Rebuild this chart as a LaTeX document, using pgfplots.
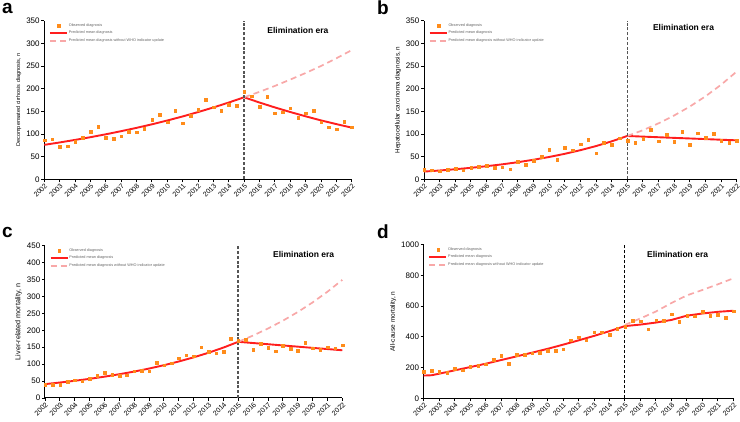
\documentclass[border=0pt]{standalone}
\usepackage{fontspec}
\setmainfont{Liberation Sans}
\usepackage{pgfplots}
\pgfplotsset{compat=1.18}
\definecolor{obs}{RGB}{255,140,26}
\definecolor{pred}{RGB}{255,30,30}
\definecolor{nowho}{RGB}{248,168,168}
\definecolor{vline}{RGB}{85,85,85}
\tikzset{era/.style={font=\bfseries\fontsize{8.5}{9}\selectfont}}
\pgfplotsset{
 panel/.style={
  scale only axis,
  axis x line*=bottom, axis y line*=left,
  xmin=2002, xmax=2022, ymin=0,
  xtick={2002,2003,...,2022},
  tick align=outside,
  major tick length=3pt,
  tick style={black, line width=0.9pt},
  axis line style={black, line width=1pt},
  /pgf/number format/assume math mode=true,
  /pgf/number format/1000 sep={},
  xticklabel style={rotate=45, anchor=north east, font=\fontsize{7}{8}\selectfont, inner sep=0.5pt},
  yticklabel style={font=\fontsize{8}{9}\selectfont, inner sep=1.5pt},
  ylabel style={font=\fontsize{5.5}{6}\selectfont},
  legend style={at={(0.005,1.0)}, anchor=north west, draw=none, fill=none, font=\fontsize{3.8}{4.2}\selectfont, text=black!60, row sep=1.6pt, legend cell align=left, nodes={inner sep=0.8pt}},
  clip=false,
 },
 obsp/.style={only marks, mark=square*, mark size=1.3pt, color=obs, mark options={line width=0.1pt}},
 predp/.style={no marks, color=pred, line width=1.9pt},
 nowhop/.style={no marks, color=nowho, line width=1.7pt, dash pattern=on 6pt off 4pt},
}
\begin{document}
\begin{tikzpicture}
\useasboundingbox (0pt,0pt) rectangle (740pt,422pt);
% panel labels
\node[anchor=base west, inner sep=0, font=\bfseries\fontsize{19}{20}\selectfont] at (2pt,408.5pt) {a};
\node[anchor=base west, inner sep=0, font=\bfseries\fontsize{19}{20}\selectfont] at (377pt,407pt) {b};
\node[anchor=base west, inner sep=0, font=\bfseries\fontsize{19}{20}\selectfont] at (2pt,184pt) {c};
\node[anchor=base west, inner sep=0, font=\bfseries\fontsize{19}{20}\selectfont] at (377pt,183pt) {d};

% ---------- a ----------
\begin{axis}[panel, at={(44.3pt,242.7pt)}, anchor=south west, width=307.4pt, height=158.6pt,
  ymax=350, ytick={0,50,...,350}, ylabel={Decompensated cirrhosis diagnosis, n}]
\addplot[obsp] coordinates {(2002,87)(2002.5,89)(2003,72)(2003.5,73.5)(2004,83)(2004.5,92.6)(2005,105)(2005.5,116)(2006,92.6)(2006.5,89.7)(2007,95.6)(2007.5,105)(2008,104)(2008.5,112)(2009,132)(2009.5,143)(2010,126)(2010.5,152)(2011,124)(2011.5,141)(2012,154)(2012.5,176)(2013,159)(2013.5,152)(2014,165)(2014.5,163)(2015,193)(2015.5,184)(2016,161)(2016.5,182)(2017,146)(2017.5,148)(2018,157)(2018.5,136)(2019,146)(2019.5,152)(2020,126)(2020.5,115)(2021,111)(2021.5,127)(2022,115)};
\addlegendentry{Observed diagnosis}
\addplot[predp] coordinates {(2002,76)(2003,81.3)(2004,86.9)(2005,92.9)(2006,99.3)(2007,106.2)(2008,113.5)(2009,121.3)(2010,129.7)(2011,138.7)(2012,148.3)(2013,158.5)(2014,169.4)(2015,181)(2016,169.4)(2017,158.6)(2018,148.5)(2019,139)(2020,130)(2021,121.8)(2022,114)};
\addlegendentry{Predicted mean diagnosis}
\addplot[nowhop] coordinates {(2015,181)(2016,193)(2017,206)(2018,220)(2019,234.5)(2020,250)(2021,267)(2022,285)};
\addlegendentry{Predicted mean diagnosis without WHO indicator update}
\addplot[forget plot, vline, line width=1.5pt, dash pattern=on 3pt off 1.8pt] coordinates {(2015,0)(2015,350)};
\node[era] at (axis cs:2018.5,329) {Elimination era};
\end{axis}

% ---------- b ----------
\begin{axis}[panel, at={(424pt,242.7pt)}, anchor=south west, width=312.7pt, height=158.6pt,
  ymax=350, ytick={0,50,...,350}, ylabel={Hepatocellular carcinoma diagnosis, n},
  ylabel style={font=\fontsize{6.3}{7}\selectfont}]
\addplot[obsp] coordinates {(2002,22)(2002.5,20.6)(2003,18.4)(2003.5,22)(2004,24)(2004.5,20.6)(2005,26.5)(2005.5,28)(2006,30)(2006.5,25.7)(2007,27)(2007.5,22.8)(2008,39.7)(2008.5,32)(2009,42)(2009.5,50.7)(2010,65)(2010.5,44)(2011,70.6)(2011.5,64.7)(2012,78)(2012.5,87.5)(2013,58)(2013.5,81.6)(2014,76.5)(2014.5,91)(2015,86)(2015.5,81)(2016,90.4)(2016.5,109.6)(2017,84.6)(2017.5,99)(2018,83)(2018.5,106)(2019,77)(2019.5,102)(2020,92.6)(2020.5,101.5)(2021,86)(2021.5,81)(2022,86)};
\addlegendentry{Observed diagnosis}
\addplot[predp] coordinates {(2002,17)(2003,19.4)(2004,22.2)(2005,25.3)(2006,28.9)(2007,33)(2008,37.7)(2009,43.1)(2010,49.2)(2011,56.2)(2012,64.2)(2013,73.3)(2014,83.7)(2015,95.6)(2016,94.2)(2017,92.8)(2018,91.4)(2019,90.1)(2020,88.7)(2021,87.3)(2022,86)};
\addlegendentry{Predicted mean diagnosis}
\addplot[nowhop] coordinates {(2015,95.6)(2016,108.3)(2017,123.5)(2018,140.8)(2019,160.5)(2020,183)(2021,208.6)(2022,237.8)};
\addlegendentry{Predicted mean diagnosis without WHO indicator update}
\addplot[forget plot, vline, line width=1.5pt, dash pattern=on 3pt off 1.8pt] coordinates {(2015,0)(2015,350)};
\node[era] at (axis cs:2018.6,334) {Elimination era};
\end{axis}

% ---------- c ----------
\begin{axis}[panel, at={(45pt,24pt)}, anchor=south west, width=297.3pt, height=152.3pt,
  ymax=450, ytick={0,50,...,450}, ylabel={Liver-related mortality, n},
  ylabel style={font=\fontsize{7.2}{8}\selectfont}]
\addplot[obsp] coordinates {(2002,40.4)(2002.5,40.4)(2003,40.4)(2003.5,48)(2004,53)(2004.5,50)(2005,57)(2005.5,67)(2006,76)(2006.5,70)(2007,66)(2007.5,68)(2008,80)(2008.5,81)(2009,80)(2009.5,104)(2010,97.5)(2010.5,103)(2011,118)(2011.5,127)(2012,124)(2012.5,150.7)(2013,138)(2013.5,133)(2014,138)(2014.5,175)(2015,169)(2015.5,173)(2016,143)(2016.5,160.5)(2017,148.7)(2017.5,139)(2018,155.6)(2018.5,145.7)(2019,140)(2019.5,163.5)(2020,147.7)(2020.5,143)(2021,150.7)(2021.5,147.7)(2022,156.6)};
\addlegendentry{Observed diagnosis}
\addplot[predp] coordinates {(2002,41)(2003,45.7)(2004,50.8)(2005,56.6)(2006,63)(2007,70.2)(2008,78.1)(2009,87)(2010,96.9)(2011,107.9)(2012,120.1)(2013,133.7)(2014,148.9)(2015,166)(2016,162.4)(2017,158.9)(2018,155.3)(2019,151.7)(2020,148.1)(2021,144.6)(2022,141)};
\addlegendentry{Predicted mean diagnosis}
\addplot[nowhop] coordinates {(2015,166)(2016,184.6)(2017,205.3)(2018,228.3)(2019,253.9)(2020,282.3)(2021,313.9)(2022,349)};
\addlegendentry{Predicted mean diagnosis without WHO indicator update}
\addplot[forget plot, vline, line width=1.5pt, dash pattern=on 3pt off 1.8pt] coordinates {(2015,0)(2015,450)};
\node[era] at (axis cs:2019.4,425) {Elimination era};
\end{axis}

% ---------- d ----------
\begin{axis}[panel, at={(423.7pt,23.7pt)}, anchor=south west, width=309.6pt, height=153.6pt,
  ymax=1000, ytick={0,200,...,1000}, ylabel={All-cause mortality, n},
  ylabel style={font=\fontsize{6.5}{7}\selectfont}]
\addplot[obsp] coordinates {(2002,173.5)(2002.5,180)(2003,175.7)(2003.5,169)(2004,195)(2004.5,184)(2005,206)(2005.5,215)(2006,223)(2006.5,251.6)(2007,277.6)(2007.5,225.6)(2008,286)(2008.5,284)(2009,295)(2009.5,297)(2010,312)(2010.5,310)(2011,321)(2011.5,379.6)(2012,399)(2012.5,379.6)(2013,431.6)(2013.5,431.6)(2014,414)(2014.5,453)(2015,468.5)(2015.5,505)(2016,503)(2016.5,451)(2017,510)(2017.5,507.5)(2018,549)(2018.5,499)(2019,540)(2019.5,535.7)(2020,564)(2020.5,540)(2021,544)(2021.5,525)(2022,568)};
\addlegendentry{Observed diagnosis}
\addplot[predp] coordinates {(2002,148)(2002.5,150)(2003,160)(2004,182)(2005,203)(2006,225)(2007,249)(2008,273)(2009,297)(2010,322)(2011,349)(2012,377)(2013,406)(2014,437)(2015,470)(2016,480)(2017,493)(2018,510)(2019,538)(2020,552)(2021,563)(2022,570)};
\addlegendentry{Predicted mean diagnosis}
\addplot[nowhop] coordinates {(2015,478)(2016,520)(2017,565)(2018,620)(2019,670)(2020,705)(2021,742)(2022,781)};
\addlegendentry{Predicted mean diagnosis without WHO indicator update}
\addplot[forget plot, black, line width=0.9pt, dash pattern=on 3pt off 2pt] coordinates {(2015,0)(2015,1000)};
\node[era] at (axis cs:2018.4,939) {Elimination era};
\end{axis}
\end{tikzpicture}
\end{document}
